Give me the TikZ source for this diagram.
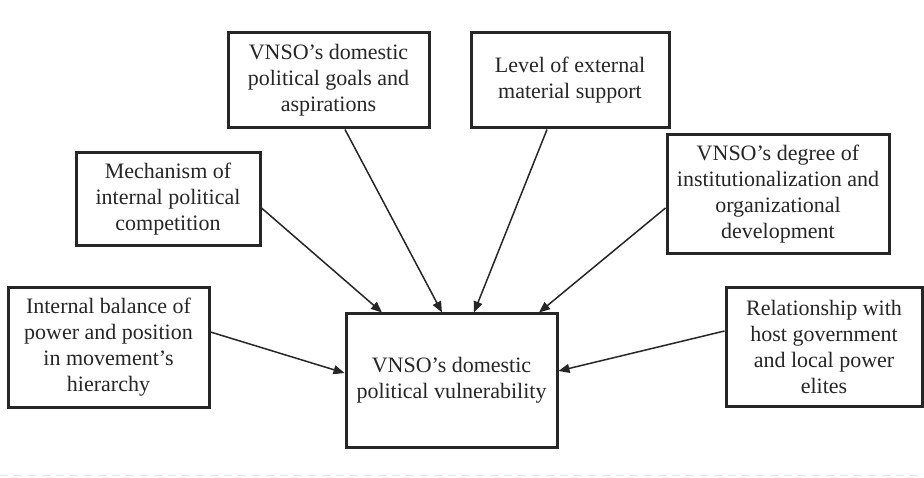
\documentclass[tikz,border=0pt]{standalone}
\usepackage{fontspec}
\setmainfont{Liberation Serif}
\usetikzlibrary{arrows.meta,calc}
\begin{document}
\begin{tikzpicture}[x=1pt,y=-1pt,
  box/.style={draw=black!85,line width=3pt,fill=white,inner sep=0pt,
    align=center,text=black!85,font=\fontsize{22}{26}\selectfont},
  link/.style={draw=black!85,line width=1.5pt,-{Triangle[length=11pt,width=9pt]}}]
\useasboundingbox (0,0) rectangle (924,478);
\node[box,minimum width=201pt,minimum height=95pt] (goals) at (328.5,80.5)
  {VNSO's domestic\\political goals and\\aspirations};
\node[box,minimum width=198pt,minimum height=95pt] (level) at (570,80.5)
  {Level of external\\material support};
\node[box,minimum width=184pt,minimum height=93pt] (mech) at (168,199.5)
  {Mechanism of\\internal political\\competition};
\node[box,minimum width=222pt,minimum height=119pt] (degree) at (778,194.5)
  {VNSO's degree of\\institutionalization and\\organizational\\development};
\node[box,minimum width=201pt,minimum height=119pt] (internal) at (108.5,347.5)
  {Internal balance of\\power and position\\in movement's\\hierarchy};
\node[box,minimum width=196pt,minimum height=118pt] (relation) at (824,347)
  {Relationship with\\host government\\and local power\\elites};
\node[box,minimum width=211pt,minimum height=133pt] (central) at (451.5,380.5)
  {\raisebox{5pt}{\begin{tabular}{@{}c@{}}VNSO's domestic\\political vulnerability\end{tabular}}};
\draw[link] ($(mech.east)+(0,8.5)$) -- ($(central.north)+(-69.5,0)$);
\draw[link] ($(goals.south)+(16.5,0)$) -- ($(central.north)+(-9.5,0)$);
\draw[link] ($(level.south)+(-23,0)$) -- ($(central.north)+(22.5,0)$);
\draw[link] ($(degree.west)+(0,13.5)$) -- ($(central.north)+(87.5,0)$);
\draw[link] ($(internal.east)+(0,-15.5)$) -- ($(central.west)+(0,-7.5)$);
\draw[link] ($(relation.west)+(0,-16)$) -- ($(central.east)+(0,-9.5)$);
\coordinate (dl) at (0,475);
\coordinate (dr) at (924,475);
\draw[black!10,line width=1pt,dash pattern=on 8pt off 6pt] (dl) -- (dr);
\end{tikzpicture}
\end{document}
